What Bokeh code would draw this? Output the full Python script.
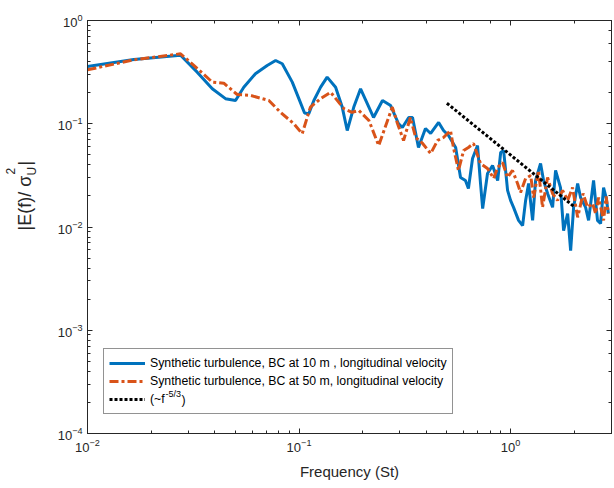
import math
from bokeh.plotting import figure
from bokeh.layouts import row
from bokeh.models import (Range1d, LogAxis, LogTicker, LogTickFormatter, CustomJSTickFormatter,
                          Label, Legend, LegendItem)
from bokeh.embed import file_html
from bokeh.resources import INLINE

# ---------------- data ----------------
blue_f = [0.01, 0.01656, 0.02754, 0.0330, 0.0389, 0.0449, 0.0501, 0.0548, 0.0622, 0.0707,
          0.0775, 0.0833, 0.0929, 0.0998, 0.1062, 0.1112, 0.1175, 0.1265, 0.1358, 0.1489,
          0.160, 0.169, 0.1815, 0.1954, 0.225, 0.248, 0.271, 0.295, 0.308, 0.330,
          0.344, 0.367, 0.396, 0.419, 0.457, 0.482, 0.509, 0.550, 0.580, 0.612,
          0.632, 0.661, 0.698, 0.721, 0.738, 0.778, 0.822, 0.869, 0.898, 0.927,
          0.968, 1.0, 1.033, 1.091, 1.140, 1.178, 1.217, 1.271, 1.313, 1.386,
          1.432, 1.496, 1.580, 1.632, 1.722, 1.781, 1.861, 1.923, 1.986, 2.075,
          2.143, 2.263, 2.338, 2.468, 2.576, 2.664, 2.752, 2.83, 2.9]
blue_e = [0.358, 0.419, 0.461, 0.316, 0.218, 0.175, 0.168, 0.226, 0.305, 0.367,
          0.410, 0.381, 0.253, 0.175, 0.127, 0.125, 0.168, 0.226, 0.283, 0.226,
          0.145, 0.086, 0.145, 0.218, 0.115, 0.168, 0.150, 0.1005, 0.092, 0.115,
          0.115, 0.0589, 0.090, 0.0805, 0.103, 0.086, 0.0769, 0.0589, 0.0302, 0.0282,
          0.0236, 0.0461, 0.0615, 0.0264, 0.0151, 0.033, 0.0394, 0.0282, 0.0527, 0.0551,
          0.0226, 0.0181, 0.0155, 0.0116, 0.0103, 0.0181, 0.0264, 0.0116, 0.0282, 0.0412,
          0.0282, 0.0211, 0.0155, 0.0353, 0.0241, 0.0092, 0.0135, 0.0059, 0.0155, 0.0264,
          0.0193, 0.0155, 0.0116, 0.0282, 0.0116, 0.0108, 0.0241, 0.0193, 0.0135]

orange_f = [0.01, 0.01656, 0.02754, 0.0318, 0.0389, 0.0441, 0.0510, 0.0590, 0.0720, 0.0817,
            0.0945, 0.1035, 0.1132, 0.1265, 0.141, 0.163, 0.178, 0.192, 0.214, 0.238,
            0.276, 0.292, 0.312, 0.336, 0.356, 0.384, 0.419, 0.452, 0.482, 0.520,
            0.537, 0.567, 0.600, 0.632, 0.668, 0.721, 0.778, 0.832, 0.869, 0.916,
            0.968, 1.021, 1.079, 1.115, 1.178, 1.245, 1.285, 1.356, 1.416, 1.496,
            1.580, 1.667, 1.762, 1.861, 1.963, 2.075, 2.203, 2.312, 2.443, 2.523,
            2.607, 2.752, 2.83, 2.9]
orange_e = [0.333, 0.416, 0.476, 0.367, 0.253, 0.247, 0.192, 0.188, 0.168, 0.129,
            0.100, 0.080, 0.145, 0.175, 0.202, 0.140, 0.129, 0.134, 0.1075, 0.0615,
            0.145, 0.1005, 0.0689, 0.115, 0.0736, 0.0644, 0.0515, 0.0689, 0.0736, 0.086,
            0.0589, 0.0353, 0.0551, 0.0589, 0.0644, 0.0412, 0.0369, 0.0295, 0.0377, 0.0421,
            0.0302, 0.0353, 0.0264, 0.0216, 0.0295, 0.0315, 0.0193, 0.0353, 0.0155, 0.0302,
            0.0211, 0.0181, 0.0226, 0.0181, 0.0241, 0.0124, 0.0211, 0.0155, 0.0169, 0.0135,
            0.0193, 0.0116, 0.0198, 0.0135]

ref_f = [0.5, 2.0]
ref_e = [0.158, 0.0157]

labels = ["Synthetic turbulence, BC at 10 m , longitudinal velocity",
          "Synthetic turbulence, BC at 50 m, longitudinal velocity",
          "(~f"]

BLUE = "#0072BD"
ORANGE = "#D95319"
AX = "#262626"
FONT = "Liberation Sans"

# ---------------- strip holding the y-axis title ----------------
LW = 40
ylab = figure(width=LW, height=488, x_range=Range1d(0, 1), y_range=Range1d(0, 1),
              output_backend="svg", toolbar_location=None, min_border=0,
              x_axis_location=None, y_axis_location=None)
ylab.grid.visible = False
ylab.outline_line_color = None
ang = math.pi / 2
ylab.add_layout(Label(x=24, y=203, x_units="screen", y_units="screen", text="|E(f)/ σ",
                      angle=ang, text_align="left", text_baseline="middle",
                      text_font=FONT, text_font_size="18px", text_color=AX))
ylab.add_layout(Label(x=31, y=258, x_units="screen", y_units="screen", text="U",
                      angle=ang, text_align="left", text_baseline="middle",
                      text_font=FONT, text_font_size="12px", text_color=AX))
ylab.add_layout(Label(x=10, y=259, x_units="screen", y_units="screen", text="2",
                      angle=ang, text_align="left", text_baseline="middle",
                      text_font=FONT, text_font_size="12px", text_color=AX))
ylab.add_layout(Label(x=24, y=268, x_units="screen", y_units="screen", text="|",
                      angle=ang, text_align="left", text_baseline="middle",
                      text_font=FONT, text_font_size="18px", text_color=AX))

# ---------------- main chart ----------------
p = figure(width=614 - LW, height=488, x_axis_type="log", y_axis_type="log",
           x_range=Range1d(0.01, 3.0), y_range=Range1d(1e-4, 1.0),
           output_backend="svg", toolbar_location=None,
           min_border_left=87 - LW, min_border_right=3, min_border_top=20, min_border_bottom=55)
p.grid.visible = False
p.outline_line_color = AX
p.background_fill_color = "white"
p.border_fill_color = "white"

x_bottom = p.below[0]
y_left = p.left[0]
x_top = LogAxis(ticker=LogTicker())
y_right = LogAxis(ticker=LogTicker())
p.add_layout(x_top, "above")
p.add_layout(y_right, "right")

for ax in (x_bottom, y_left, x_top, y_right):
    ax.major_tick_in = 5
    ax.major_tick_out = 0
    ax.minor_tick_in = 3
    ax.minor_tick_out = 0
    ax.axis_line_color = AX
    ax.major_tick_line_color = AX
    ax.minor_tick_line_color = AX

for ax in (x_top, y_right):
    ax.formatter = CustomJSTickFormatter(code="return ''")
    ax.major_label_text_font_size = "0px"
    ax.major_label_standoff = 0

for ax in (x_bottom, y_left):
    ax.formatter = LogTickFormatter()
    ax.major_label_text_font = FONT
    ax.major_label_text_font_size = "13px"
    ax.major_label_text_color = AX
    ax.major_label_standoff = 5
    ax.axis_label_text_font = FONT
    ax.axis_label_text_font_style = "normal"
    ax.axis_label_text_font_size = "15px"
    ax.axis_label_text_color = AX

x_bottom.axis_label = "Frequency (St)"
x_bottom.axis_label_standoff = 8

r1 = p.line(blue_f, blue_e, line_color=BLUE, line_width=3)
r2 = p.line(orange_f, orange_e, line_color=ORANGE, line_width=3, line_dash="9 3 3 3")
r3 = p.line(ref_f, ref_e, line_color="black", line_width=3, line_dash="3 2")

# superscript of the third legend entry
p.add_layout(Label(x=0.02338, y=2.44e-4, text="-5/3",
                   text_font=FONT, text_font_size="9px", text_baseline="middle",
                   text_color="black", level="overlay"))
p.add_layout(Label(x=0.02782, y=2.09e-4, text=")",
                   text_font=FONT, text_font_size="12.3px", text_baseline="middle",
                   text_color="black", level="overlay"))

legend = Legend(items=[LegendItem(label=labels[0], renderers=[r1]),
                       LegendItem(label=labels[1], renderers=[r2]),
                       LegendItem(label=labels[2], renderers=[r3])],
                location=(16, 19), label_text_font=FONT, label_text_font_size="12.3px",
                label_text_color="black", glyph_width=36, glyph_height=18,
                label_height=18, label_standoff=5, spacing=0, padding=5, margin=0,
                border_line_color=AX, border_line_width=1, background_fill_alpha=0.0)
p.add_layout(legend)

open("out.html", "w").write(file_html(row(ylab, p, spacing=0), INLINE))
